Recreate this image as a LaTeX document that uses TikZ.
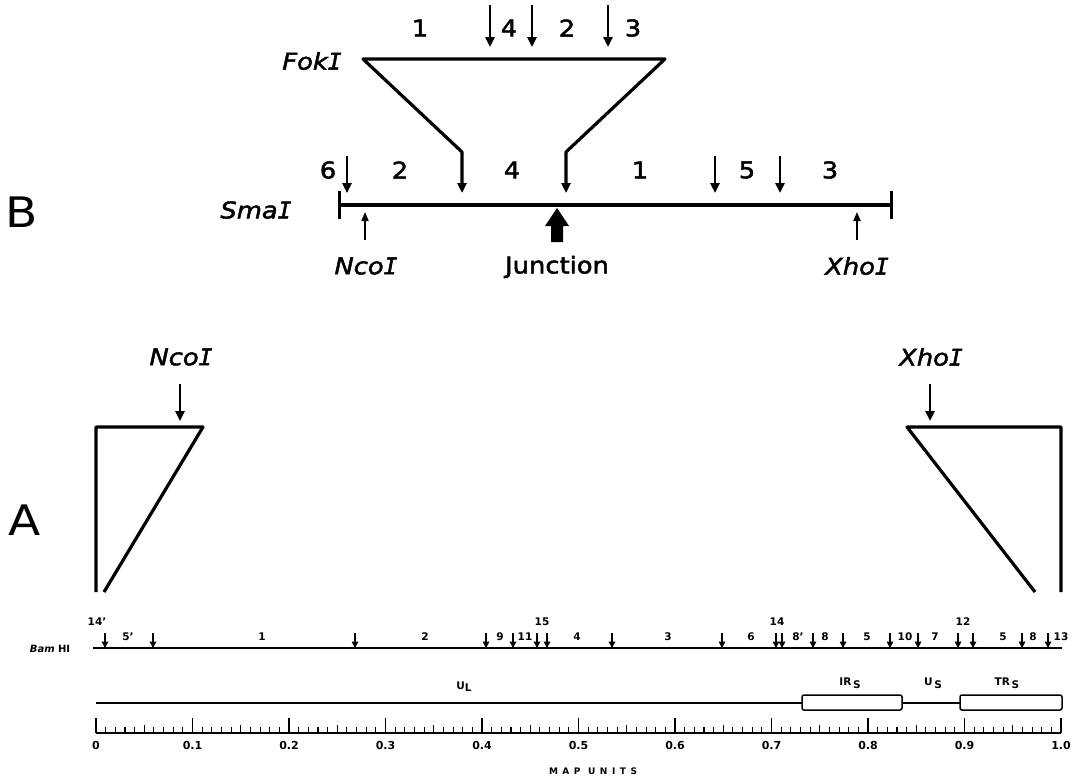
\documentclass[tikz,border=0pt]{standalone}
\usepackage{fontspec}
\setmainfont{DejaVu Sans}
\newfontfamily\lett[FakeStretch=1.12]{DejaVu Sans}
\newfontfamily\lettb[FakeStretch=1.12, FakeBold=2]{DejaVu Sans}
\newfontfamily\barI[FakeBold=2]{DejaVu Sans Mono}
\usetikzlibrary{arrows.meta}

\newcommand{\sI}{{\barI I}}

\tikzset{
  every node/.style={inner sep=0pt, outer sep=0pt, anchor=center},
  numlab/.style={font=\lettb\fontsize{23}{23}\selectfont},
  enzlab/.style={font=\lettb\itshape\fontsize{23}{23}\selectfont},
  panel/.style={font=\lett\fontsize{42}{42}\selectfont},
  cutarr/.style={line width=2.4pt, -{Triangle[length=10pt,width=9pt]}},
  sitearr/.style={line width=1.8pt, -{Triangle[length=9pt,width=7pt]}},
  heavy/.style={line width=3.2pt, line join=round},
  bamarr/.style={line width=1.6pt, -{Triangle[length=6.5pt,width=6.5pt]}},
  bamlab/.style={font=\bfseries\fontsize{10.5}{10.5}\selectfont},
  reglab/.style={font=\bfseries\fontsize{10.5}{10.5}\selectfont},
  scalelab/.style={font=\bfseries\fontsize{11}{11}\selectfont},
}

\begin{document}
\begin{tikzpicture}[x=1pt, y=-1pt]
\useasboundingbox (0,0) rectangle (1074,782);

% ---------------- panel B ----------------
\node[panel] (labB) at (22,212) {B};
\node[panel] (labA) at (25,520) {A};

% FokI fragment expanded from the SmaI map
\node[enzlab] (fok) at (312,61) {Fok\sI};
\coordinate (fokL) at (363,59);
\coordinate (fokR) at (665,59);
\coordinate (legL) at (462,152);
\coordinate (legR) at (566,152);
\coordinate (tipL) at (462,193);
\coordinate (tipR) at (566,193);
\draw[heavy, {Triangle[length=10pt,width=9pt]}-{Triangle[length=10pt,width=9pt]}]
  (tipL) -- (legL) -- (fokL) -- (fokR) -- (legR) -- (tipR);

% FokI cut sites and fragment numbers
\foreach \x/\n in {490/a, 532/b, 608/c}{
  \coordinate (fc\n t) at (\x,5);
  \coordinate (fc\n b) at (\x,47);
  \draw[cutarr] (fc\n t) -- (fc\n b);
}
\node[numlab] (f1) at (420,28) {1};
\node[numlab] (f4) at (509,28) {4};
\node[numlab] (f2) at (567,28) {2};
\node[numlab] (f3) at (633,28) {3};

% SmaI map
\node[enzlab] (sma) at (256,210) {Sma\sI};
\coordinate (smaL) at (339,205);
\coordinate (smaR) at (891,205);
\draw[line width=4pt] (smaL) -- (smaR);
\draw[line width=3pt] (339,191) -- (339,219);
\draw[line width=3pt] (891,191) -- (891,219);

\foreach \x/\n in {347/a, 715/b, 780/c}{
  \coordinate (sc\n t) at (\x,156);
  \coordinate (sc\n b) at (\x,193);
  \draw[cutarr] (sc\n t) -- (sc\n b);
}
\node[numlab] (s6) at (328,170) {6};
\node[numlab] (s2) at (400,170) {2};
\node[numlab] (s4) at (512,170) {4};
\node[numlab] (s1) at (640,170) {1};
\node[numlab] (s5) at (747,170) {5};
\node[numlab] (s3) at (830,170) {3};

% NcoI and XhoI sites, and the junction
\coordinate (ncoB) at (365,240);
\coordinate (ncoT) at (365,212);
\draw[sitearr] (ncoB) -- (ncoT);
\node[enzlab] (ncoLab) at (366,266) {Nco\sI};
\coordinate (xhoB) at (857,240);
\coordinate (xhoT) at (857,212);
\draw[sitearr] (xhoB) -- (xhoT);
\node[enzlab] (xhoLab) at (857,266) {Xho\sI};

\fill (557,208) -- (569,226) -- (563,226) -- (563,242) -- (551,242) -- (551,226) -- (545,226) -- cycle;
\node[numlab] (junc) at (557,267) {Junction};

% ---------------- panel A ----------------
\node[enzlab] (ncoA) at (181,357) {Nco\sI};
\coordinate (ncoAt) at (180,384);
\coordinate (ncoAb) at (180,421);
\draw[cutarr] (ncoAt) -- (ncoAb);
\draw[heavy] (96,592) -- (96,427) -- (203,427) -- (104,592);

\node[enzlab] (xhoA) at (931,357) {Xho\sI};
\coordinate (xhoAt) at (930,384);
\coordinate (xhoAb) at (930,421);
\draw[cutarr] (xhoAt) -- (xhoAb);
\draw[heavy] (1035,592) -- (907,427) -- (1061,427) -- (1061,592);

% BamHI map
\node[font=\bfseries\fontsize{10}{10}\selectfont] (bam) at (50,649) {\textit{Bam}\,\,HI};
\coordinate (bamL) at (93,648);
\coordinate (bamR) at (1062,648);
\draw[line width=1.6pt] (bamL) -- (bamR);
\foreach \x [count=\k] in {105,153,355,486,513,537,547,612,722,776,782,813,843,890,918,958,973,1022,1048}{
  \coordinate (bt\k) at (\x,633);
  \coordinate (bb\k) at (\x,648);
  \draw[bamarr] (bt\k) -- (bb\k);
}
\foreach \x/\y/\t [count=\k] in {97/622/14', 128/637/5', 262/637/1, 425/637/2, 500/637/9,
   525/637/11, 542/622/15, 577/637/4, 668/637/3, 751/637/6, 777/622/14, 798/637/8',
   825/637/8, 867/637/5, 905/637/10, 935/637/7, 963/622/12, 1003/637/5, 1033/637/8, 1061/637/13}{
  \node[bamlab] (bl\k) at (\x,\y) {\t};
}

% genome organisation
\coordinate (gL) at (96,703);
\coordinate (irsL) at (802,703);
\coordinate (irsR) at (902,703);
\coordinate (trsL) at (960,703);
\draw[line width=2pt] (gL) -- (irsL);
\draw[line width=1.4pt] (irsR) -- (trsL);
\draw[line width=1.5pt, rounded corners=2pt] (802,695) rectangle (902,710);
\draw[line width=1.5pt, rounded corners=2pt] (960,695) rectangle (1062,710);
\node[reglab] (ul) at (464,687) {U\raisebox{-2pt}{L}};
\node[reglab] (irs) at (850,683) {IR\,\raisebox{-3.5pt}{S}};
\node[reglab] (us) at (933,683) {U\,\raisebox{-3.5pt}{S}};
\node[reglab] (trs) at (1007,683) {TR\,\raisebox{-3.5pt}{S}};

% map-unit scale
\coordinate (scL) at (96,733);
\coordinate (scR) at (1061,733);
\draw[line width=1.5pt] (scL) -- (scR);
\foreach \i in {0,...,100}{
  \pgfmathsetmacro{\xx}{96+9.65*\i}
  \pgfmathsetmacro{\hh}{mod(\i,10)==0 ? 15 : (mod(\i,5)==0 ? 8 : 6)}
  \draw[line width=1.1pt] (\xx,733) -- (\xx,733-\hh);
}
\foreach \v/\t [count=\k] in {0/0, 1/0.1, 2/0.2, 3/0.3, 4/0.4, 5/0.5, 6/0.6, 7/0.7, 8/0.8, 9/0.9, 10/1.0}{
  \node[scalelab] (ml\k) at (96+96.5*\v,745) {\t};
}
\node[font=\bfseries\fontsize{9}{9}\selectfont\addfontfeatures{LetterSpace=50}] (mu) at (593,771) {MAP UNITS};

\end{tikzpicture}
\end{document}
